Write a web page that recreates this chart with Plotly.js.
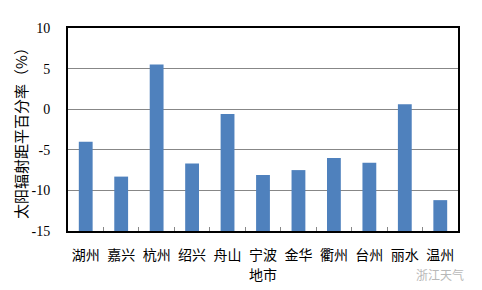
<!DOCTYPE html>
<html>
<head>
<meta charset="utf-8">
<script src="https://cdn.plot.ly/plotly-3.0.1.min.js"></script>
<style>html,body{margin:0;padding:0;background:#fff;}#chart{width:482px;height:290px;}</style>
</head>
<body>
<div id="chart"></div>
<script>
const categories = ["湖州","嘉兴","杭州","绍兴","舟山","宁波","金华","衢州","台州","丽水","温州"];
const values = [-4.0, -8.3, 5.5, -6.7, -0.6, -8.1, -7.5, -6.0, -6.6, 0.6, -11.2];
const yTickVals = [-15, -10, -5, 0, 5, 10];
const yTickText = ["-15", "-10", "-5", "0", "5", "10"];
const axisFloor = -15;

const cjk = '"Noto Sans CJK SC", "Noto Sans", sans-serif';
const serif = '"Liberation Serif", "DejaVu Serif", serif';

const trace = {
  type: 'bar',
  x: categories,
  y: values.map(v => v - axisFloor),
  base: axisFloor,
  marker: {color: '#4F81BD'},
  hoverinfo: 'skip'
};

const layout = {
  width: 482, height: 290,
  margin: {l: 68, r: 24, t: 28, b: 59},
  paper_bgcolor: '#fff', plot_bgcolor: '#fff',
  showlegend: false,
  bargap: 0.61,
  xaxis: {
    type: 'category',
    showline: true, linecolor: '#000', linewidth: 2, mirror: true,
    ticks: 'inside', tickson: 'boundaries', ticklen: 4, tickcolor: '#888', tickwidth: 1,
    tickangle: 0, ticklabelstandoff: 10,
    tickfont: {family: cjk, size: 14, color: '#000'},
    title: {text: '地市', font: {family: cjk, size: 14, color: '#000'}, standoff: 2},
    showgrid: false
  },
  yaxis: {
    range: [-15, 10],
    tickvals: yTickVals, ticktext: yTickText,
    showline: true, linecolor: '#000', linewidth: 2, mirror: true,
    ticks: '', ticklabelstandoff: 13,
    tickfont: {family: serif, size: 14, color: '#000'},
    showgrid: true, gridcolor: '#878787', gridwidth: 1,
    zeroline: false,
    title: {text: '太阳辐射距平百分率（%）', font: {family: cjk, size: 15, color: '#000'}, standoff: 0}
  },
  annotations: [{
    xref: 'paper', yref: 'paper', x: 1.02, y: -0.215, xanchor: 'right', yanchor: 'middle',
    text: '浙江天气', showarrow: false,
    font: {family: cjk, size: 12, color: '#b8b8b8'}
  }]
};

Plotly.newPlot('chart', [trace], layout, {displayModeBar: false, staticPlot: true});
</script>
</body>
</html>
